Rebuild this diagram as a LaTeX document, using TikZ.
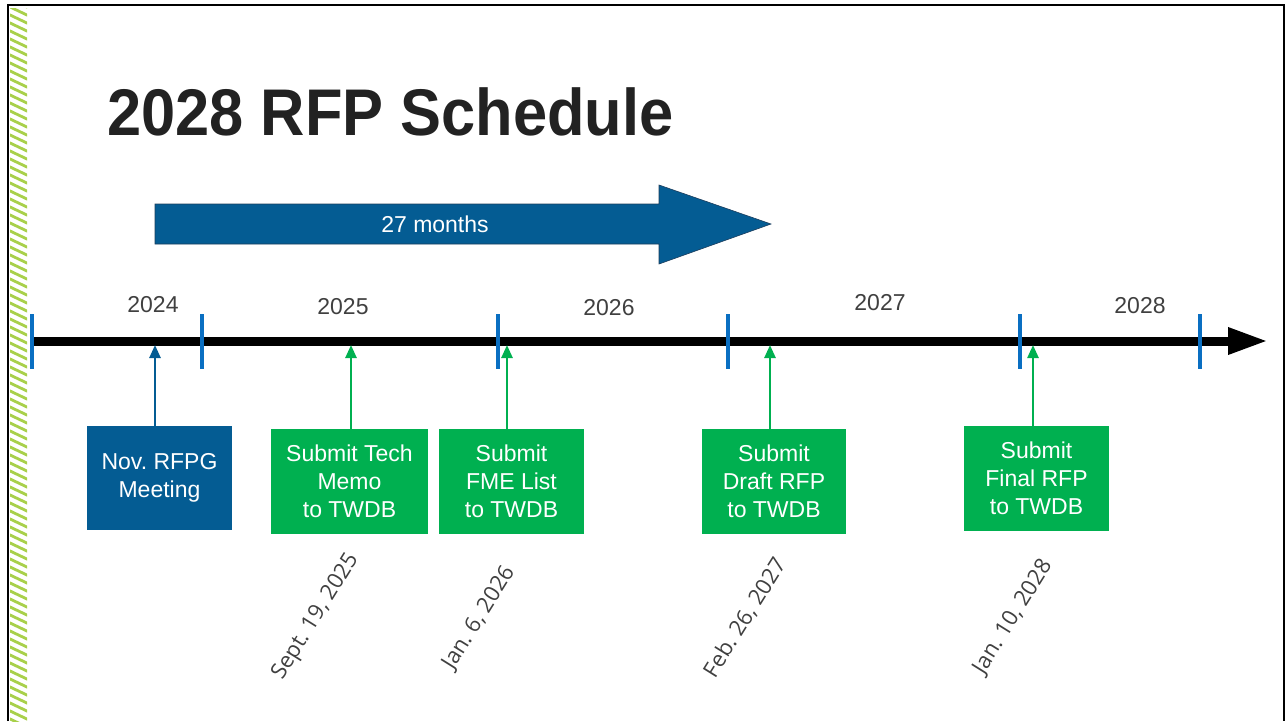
\documentclass[tikz,border=0pt]{standalone}
\usepackage{fontspec}
\setmainfont{Liberation Sans}
\newfontfamily\titlefont[FakeStretch=0.93]{Liberation Sans}
\newfontfamily\datefont{Open Sans}
\usetikzlibrary{arrows.meta,calc}
\definecolor{rfpblue}{HTML}{045C93}
\definecolor{rfpedge}{HTML}{1D3D5C}
\definecolor{rfpgreen}{HTML}{00B050}
\definecolor{tickblue}{HTML}{0A6FC2}
\definecolor{hatchgreen}{HTML}{A8D04A}
\definecolor{labelgray}{HTML}{404040}
\definecolor{titlegray}{HTML}{222222}
\newcommand{\boxfont}{\fontsize{23}{28}\selectfont}
\frenchspacing

\begin{document}
\begin{tikzpicture}[x=1pt,y=-1pt,
  evbox/.style={fill=rfpblue, text=white, align=center, inner sep=0pt, minimum width=145pt, minimum height=104pt, font=\boxfont},
  subbox/.style={fill=rfpgreen, text=white, align=center, inner sep=0pt, minimum width=145pt, minimum height=105pt, font=\boxfont},
  yearlbl/.style={text=labelgray, font=\fontsize{23}{26}\selectfont},
  datelbl/.style={text=labelgray, rotate=58, font=\datefont\fontsize{22}{24}\selectfont},
  tickmark/.style={tickblue, line width=3.5pt},
  evarrow/.style={rfpblue, line width=2.5pt, -{Triangle[length=13pt,width=11pt]}},
  subarrow/.style={rfpgreen, line width=2.5pt, -{Triangle[length=13pt,width=11pt]}}]
\useasboundingbox (0,0) rectangle (1288,721);

% frame and hatched strip
\draw[black, line width=2pt] (8,721) -- (8,5) -- (1284,5) -- (1284,721);
\begin{scope}
  \clip (10,8) rectangle (27,721);
  \foreach \k in {0,8,...,752}
    \draw[hatchgreen, line width=2.8pt] (8,\k-10) -- (29,\k);
\end{scope}

\node[anchor=base west, inner sep=0pt, text=titlegray, font=\titlefont\bfseries\fontsize{66}{70}\selectfont] (title) at (107,135) {2028 RFP Schedule};

% duration arrow
\filldraw[fill=rfpblue, draw=rfpedge, line width=0.6pt] (155,204) -- (659,204) -- (659,185) -- (771,224) -- (659,264) -- (659,244) -- (155,244) -- cycle;
\node[text=white, font=\fontsize{23}{26}\selectfont] (dur) at (435,224) {27 months};

% timeline
\coordinate (t0) at (30,341);
\coordinate (tend) at (1268,341);
\draw[black, line width=9pt, -{Triangle[length=40pt,width=25pt]}] (t0) -- (tend);
\foreach \x in {32,202,498,728,1020,1200}
  \draw[tickmark] (\x,314) -- (\x,369);

\node[yearlbl] (y24) at (153,305) {2024};
\node[yearlbl] (y25) at (343,307) {2025};
\node[yearlbl] (y26) at (609,308) {2026};
\node[yearlbl] (y27) at (880,303) {2027};
\node[yearlbl] (y28) at (1140,306) {2028};

% events
\node[evbox] (nov) at (159.5,478) {Nov. RFPG\\Meeting};
\node[subbox, minimum width=157pt] (tech) at (349.5,481.5) {Submit Tech\\Memo\\to TWDB};
\node[subbox] (fme) at (511.5,481.5) {Submit\\FME List\\to TWDB};
\node[subbox, minimum width=144pt] (draft) at (774,481.5) {Submit\\Draft RFP\\to TWDB};
\node[subbox] (final) at (1036.5,478.5) {Submit\\Final RFP\\to TWDB};

\coordinate (m1) at (155,345);
\coordinate (m2) at (351,345);
\coordinate (m3) at (507,345);
\coordinate (m4) at (770,345);
\coordinate (m5) at (1033,345);
\draw[evarrow] (nov.north -| m1) -- (m1);
\draw[subarrow] (tech.north -| m2) -- (m2);
\draw[subarrow] (fme.north -| m3) -- (m3);
\draw[subarrow] (draft.north -| m4) -- (m4);
\draw[subarrow] (final.north -| m5) -- (m5);

\node[datelbl] (d2) at (316,617) {Sept. 19, 2025};
\node[datelbl] (d3) at (479,618) {Jan. 6, 2026};
\node[datelbl] (d4) at (745,618) {Feb. 26, 2027};
\node[datelbl] (d5) at (1013,617) {Jan. 10, 2028};
\end{tikzpicture}
\end{document}
